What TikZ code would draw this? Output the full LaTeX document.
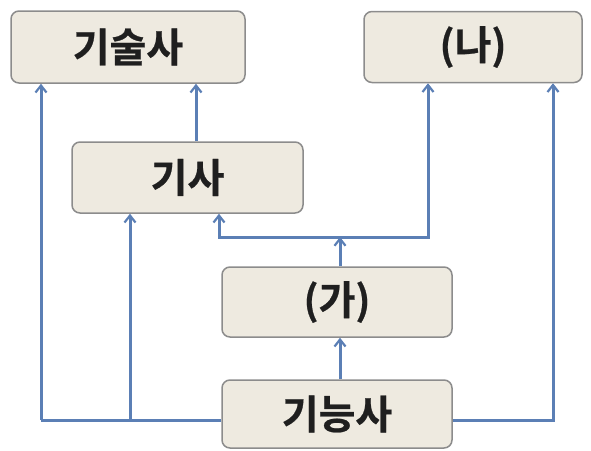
\documentclass[tikz,border=0pt]{standalone}
\usepackage{fontspec}
\newfontfamily\kr{Noto Sans CJK KR}[BoldFont={* Bold}, BoldFeatures={FakeBold=0.6}]
\usetikzlibrary{arrows.meta}
\definecolor{boxfill}{HTML}{EEEAE0}
\definecolor{boxline}{HTML}{8C8C8C}
\definecolor{arr}{HTML}{5B7FB5}
\begin{document}
\begin{tikzpicture}[x=1pt,y=-1pt,
  nbox/.style={draw=boxline, line width=1.5pt, fill=boxfill, rounded corners=8pt, inner sep=0pt, font=\kr\bfseries\fontsize{40}{44}\selectfont, text=black!88},
  conn/.style={draw=arr, line width=3pt, -{Straight Barb[length=7pt,width=11pt,line width=2.2pt]}},
  plain/.style={draw=arr, line width=3pt}]
\useasboundingbox (0,0) rectangle (591,450);
\node[nbox, minimum width=234pt, minimum height=72pt] (gs) at (128,47) {기술사};
\node[nbox, minimum width=218pt, minimum height=71pt] (na) at (473,47) {(나)};
\node[nbox, minimum width=231pt, minimum height=71pt] (gi) at (187.5,177.5) {기사};
\node[nbox, minimum width=230pt, minimum height=70pt] (ga) at (337,302) {(가)};
\node[nbox, minimum width=230pt, minimum height=68pt] (gn) at (337,414) {기능사};
\coordinate (j) at (340,237);
\coordinate (ll) at (41,420);
\coordinate (lm) at (130,420);
\coordinate (rr) at (553,420);
% 기사 -> 기술사
\draw[conn] (gi.north -| 196,0) -- (gs.south -| 196,0);
% 기능사 -> (가)
\draw[conn] (gn.north -| 340,0) -- (ga.south -| 340,0);
% (가) -> junction
\draw[conn] (ga.north -| 340,0) -- (j);
% junction -> 기사 and (나)
\draw[conn] (j) -- (219,237) -- (gi.south -| 219,0);
\draw[conn] (j) -- (428,237) -- (na.south -| 428,0);
% 기능사 left
\draw[plain] (gn.west |- ll) -- (ll);
\draw[conn] (ll) -- (gs.south -| ll);
\draw[conn] (lm) -- (gi.south -| lm);
% 기능사 right
\draw[conn] (gn.east |- rr) -- (rr) -- (na.south -| rr);
\end{tikzpicture}
\end{document}
